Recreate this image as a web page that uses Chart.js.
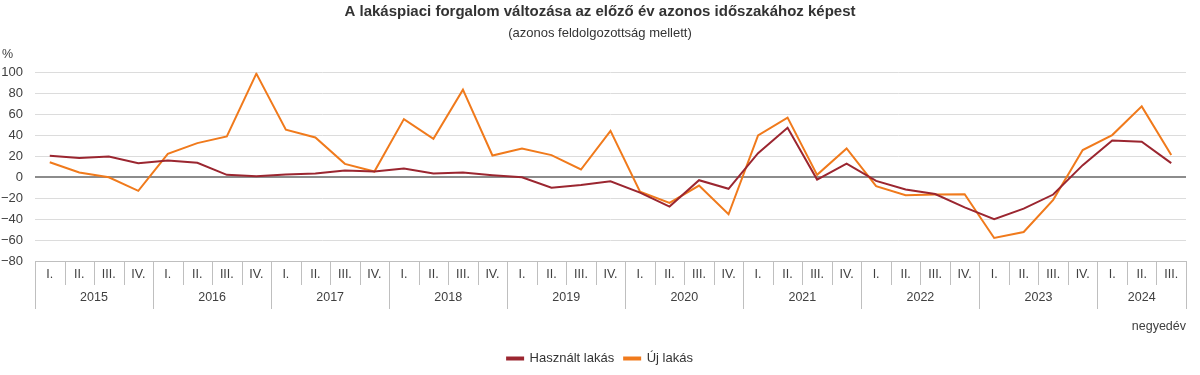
<!DOCTYPE html>
<html>
<head>
<meta charset="utf-8">
<script src="https://cdn.jsdelivr.net/npm/chart.js@4"></script>
<style>
html,body{margin:0;padding:0;background:#fff;}
#wrap{width:1200px;height:375px;position:relative;}
</style>
</head>
<body>
<div id="wrap"><canvas id="c" width="1200" height="375"></canvas></div>
<script>
const years = ['2015','2016','2017','2018','2019','2020','2021','2022','2023','2024'];
const quarterLabels = [
 'I.','II.','III.','IV.','I.','II.','III.','IV.','I.','II.','III.','IV.',
 'I.','II.','III.','IV.','I.','II.','III.','IV.','I.','II.','III.','IV.',
 'I.','II.','III.','IV.','I.','II.','III.','IV.','I.','II.','III.','IV.',
 'I.','II.','III.'
];
const usedHomes = [
 20.5, 18.3, 19.8, 13.5, 16, 13.8, 2.3, 1, 2.6, 3.6, 6.4, 5.5,
 8.4, 3.6, 4.5, 2, 0, -10, -7.3, -3.8, -14.6, -28, -2.8, -11,
 23, 47.3, -2.2, 13.1, -3.5, -11.7, -16, -28.7, -40, -30, -16.5, 11.6,
 35.2, 34, 13.5
];
const newHomes = [
 14.4, 4.5, 0, -13, 22.4, 32.6, 39, 99, 45.4, 38, 12.8, 5.5,
 55.6, 36.8, 83.7, 20.8, 27.5, 21.2, 7.4, 44.4, -13.7, -24.5, -7.9, -35.4,
 40, 57, 2.3, 27.5, -8.5, -17.2, -16.5, -16.2, -58, -52.3, -21.6, 26,
 40.3, 67.7, 21.2
];
const yTicks = [-80,-60,-40,-20,0,20,40,60,80,100];

const FONT = "'Liberation Sans', Arial, sans-serif";
const TXT = '#404040';
const SEP = '#bfbfbf';

const yearAxisPlugin = {
  id: 'yearAxis',
  afterDraw(chart) {
    const xs = chart.scales.x;
    const ctx = chart.ctx;
    const top = chart.chartArea.bottom;
    const n = quarterLabels.length;
    const half = (xs.getPixelForValue(1) - xs.getPixelForValue(0)) / 2;
    ctx.save();
    ctx.strokeStyle = SEP;
    ctx.lineWidth = 1;
    for (let i = 0; i <= n; i++) {
      const px = i < n ? xs.getPixelForValue(i) - half : xs.getPixelForValue(n - 1) + half;
      const isYear = (i % 4 === 0) || i === n;
      const xx = Math.round(px) + 0.5;
      ctx.beginPath();
      ctx.moveTo(xx, top);
      ctx.lineTo(xx, isYear ? 309 : 285);
      ctx.stroke();
    }
    ctx.fillStyle = TXT;
    ctx.font = "12.5px " + FONT;
    ctx.textAlign = 'center';
    ctx.textBaseline = 'middle';
    years.forEach((y, j) => {
      const first = 4 * j;
      const last = Math.min(4 * j + 3, n - 1);
      const cx = (xs.getPixelForValue(first) + xs.getPixelForValue(last)) / 2;
      ctx.fillText(y, cx, 298);
    });
    ctx.textAlign = 'left';
    ctx.fillText('%', 2, 55);
    ctx.restore();
  }
};

new Chart(document.getElementById('c'), {
  type: 'line',
  data: {
    labels: quarterLabels,
    datasets: [
      { label: 'Használt lakás', data: usedHomes, borderColor: '#9b2630', backgroundColor: '#9b2630',
        borderWidth: 2, pointRadius: 0, tension: 0 },
      { label: 'Új lakás', data: newHomes, borderColor: '#f07a1c', backgroundColor: '#f07a1c',
        borderWidth: 2, pointRadius: 0, tension: 0 }
    ]
  },
  options: {
    responsive: false,
    animation: false,
    devicePixelRatio: 1,
    layout: { padding: { left: 0, right: 0, top: 0, bottom: 0 } },
    plugins: {
      title: {
        display: true,
        text: 'A lakáspiaci forgalom változása az előző év azonos időszakához képest',
        color: '#333333',
        font: { family: FONT, size: 15, weight: 'bold' },
        padding: { top: 3, bottom: 4 }
      },
      subtitle: {
        display: true,
        text: '(azonos feldolgozottság mellett)',
        color: '#333333',
        font: { family: FONT, size: 13 },
        padding: { top: 1, bottom: 31 }
      },
      legend: {
        position: 'bottom',
        labels: {
          boxWidth: 16,
          boxHeight: 2,
          color: '#333333',
          font: { family: FONT, size: 13 },
          padding: 10
        }
      },
      tooltip: { enabled: false }
    },
    scales: {
      y: {
        min: -80,
        max: 100,
        afterBuildTicks(scale) { scale.ticks = yTicks.map(v => ({ value: v })); },
        afterFit(scale) { scale.width = 35; },
        ticks: {
          color: TXT,
          font: { family: FONT, size: 13 },
          padding: 12,
          callback: (v) => (v < 0 ? '\u2212' + Math.abs(v) : String(v))
        },
        grid: {
          drawTicks: false,
          color: (c) => (c.tick && c.tick.value === 0 ? '#8c8c8c' : '#dcdcdc'),
          lineWidth: (c) => (c.tick && c.tick.value === 0 ? 2 : 1)
        },
        border: { display: false }
      },
      yRight: {
        position: 'right',
        min: -80,
        max: 100,
        afterFit(scale) { scale.width = 14; },
        ticks: { display: false },
        grid: { display: false, drawTicks: false },
        border: { display: false }
      },
      x: {
        offset: true,
        afterFit(scale) { scale.height = 81; },
        ticks: {
          color: TXT,
          font: { family: FONT, size: 12.5 },
          padding: 6,
          autoSkip: false,
          maxRotation: 0
        },
        grid: { display: false, drawTicks: false, offset: true },
        border: { display: true, color: SEP },
        title: {
          display: true,
          text: 'negyedév',
          align: 'end',
          color: TXT,
          font: { family: FONT, size: 12.5 },
          padding: { top: 0, bottom: 8 }
        }
      }
    }
  },
  plugins: [yearAxisPlugin]
});
</script>
</body>
</html>
